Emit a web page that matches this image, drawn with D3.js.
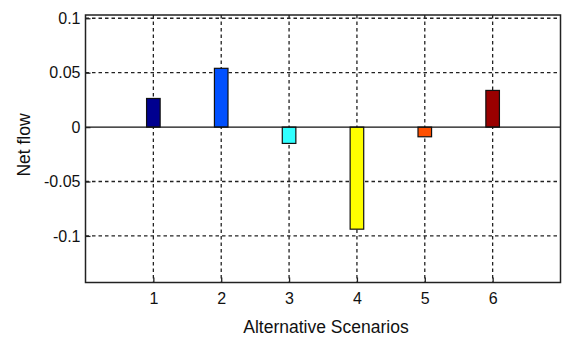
<!DOCTYPE html>
<html><head><meta charset="utf-8">
<script src="https://cdn.jsdelivr.net/npm/d3@7"></script>
<style>body{margin:0;background:#fff}svg{display:block}text{font-family:"Liberation Sans",Arial,sans-serif;fill:#111}</style>
</head><body>
<script>
const scenarios = [1, 2, 3, 4, 5, 6];
const netFlow = [0.0263, 0.054, -0.015, -0.0938, -0.0089, 0.0337];
const barColors = ["#00008f", "#0050ff", "#30ffff", "#ffff00", "#ff5000", "#9a0000"];
const xTicks = [1, 2, 3, 4, 5, 6];
const yTicks = [-0.1, -0.05, 0, 0.05, 0.1];
const yTickLabels = ["-0.1", "-0.05", "0", "0.05", "0.1"];

const W = 563, H = 338;
const m = {left: 85.5, right: 2.5, top: 15, bottom: 55.5};
const svg = d3.select("body").append("svg").attr("width", W).attr("height", H);
const x = d3.scaleLinear().domain([0, 7]).range([m.left, W - m.right]);
const y = d3.scaleLinear().domain([-0.1428, 0.103]).range([H - m.bottom, m.top]);
const pw = W - m.right - m.left, ph = H - m.bottom - m.top;

// grid
const g = svg.append("g");
g.selectAll(".vg").data(xTicks).join("line")
  .attr("x1", d => x(d)).attr("x2", d => x(d)).attr("y1", m.top).attr("y2", H - m.bottom)
  .attr("stroke", "#222").attr("stroke-width", 1.3).attr("stroke-dasharray", "3.5,3");
g.selectAll(".hg").data(yTicks.filter(d => d !== 0)).join("line")
  .attr("x1", m.left).attr("x2", W - m.right).attr("y1", d => y(d)).attr("y2", d => y(d))
  .attr("stroke", "#222").attr("stroke-width", 1.3).attr("stroke-dasharray", "3.5,3");

// bars
const bw = 0.2;
svg.selectAll(".bar").data(netFlow).join("rect")
  .attr("x", (d, i) => x(scenarios[i] - bw / 2))
  .attr("width", x(bw) - x(0))
  .attr("y", d => y(Math.max(0, d)))
  .attr("height", d => Math.abs(y(d) - y(0)))
  .attr("fill", (d, i) => barColors[i])
  .attr("stroke", "#111").attr("stroke-width", 1.2);

// baseline
svg.append("line").attr("x1", m.left).attr("x2", W - m.right).attr("y1", y(0)).attr("y2", y(0))
  .attr("stroke", "#111").attr("stroke-width", 1.3);

// frame
svg.append("rect").attr("x", m.left).attr("y", m.top).attr("width", pw).attr("height", ph)
  .attr("fill", "none").attr("stroke", "#222").attr("stroke-width", 1.5);

// axes
const xAxis = d3.axisBottom(x).tickValues(xTicks).tickSize(-5).tickPadding(10).tickFormat(d3.format("d"));
const xa = svg.append("g").attr("transform", `translate(0,${H - m.bottom})`).call(xAxis);
const yAxis = d3.axisLeft(y).tickValues(yTicks).tickSize(-5).tickPadding(5).tickFormat((d, i) => yTickLabels[i]);
const ya = svg.append("g").attr("transform", `translate(${m.left},0)`).call(yAxis);
[xa, ya].forEach(a => {
  a.select(".domain").remove();
  a.selectAll(".tick line").attr("stroke", "#222").attr("stroke-width", 1.3);
  a.selectAll("text").attr("font-size", 16).attr("fill", "#111")
    .attr("font-family", '"Liberation Sans",Arial,sans-serif');
});

svg.append("text").attr("x", (m.left + W - m.right) / 2 + 3).attr("y", 333)
  .attr("text-anchor", "middle").attr("font-size", 17.5).text("Alternative Scenarios");
svg.append("text").attr("transform", `translate(30,145) rotate(-90)`)
  .attr("text-anchor", "middle").attr("font-size", 17.5).text("Net flow");
</script>
</body></html>
